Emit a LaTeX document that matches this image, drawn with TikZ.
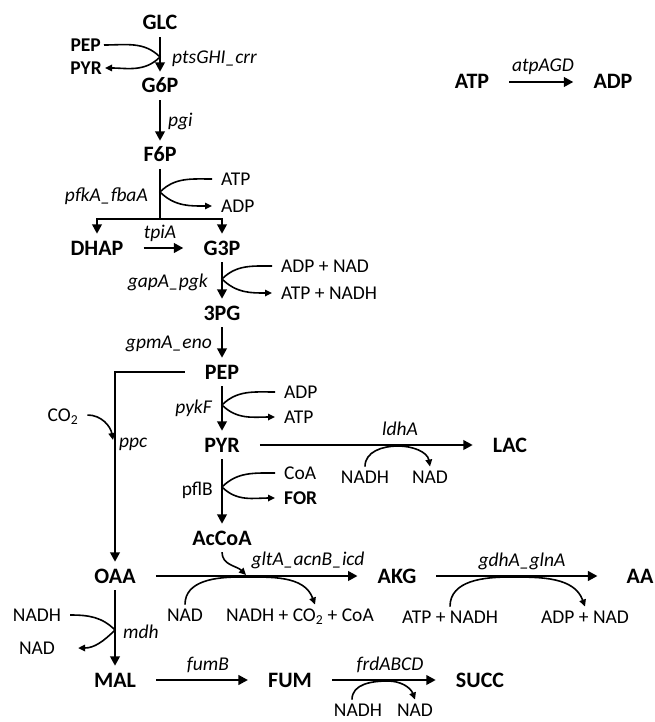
\documentclass[tikz,border=0pt]{standalone}
\usepackage{fontspec}
\setmainfont{Carlito}
\usetikzlibrary{arrows.meta}

\begin{document}
\begin{tikzpicture}[x=1pt, y=-1pt,
  met/.style={font=\bfseries\fontsize{22}{26}\selectfont, text height=14pt,
    text depth=0pt, inner xsep=20pt, inner ysep=7pt},
  metsm/.style={font=\bfseries\fontsize{19.5}{23}\selectfont,
    text height=12.5pt, text depth=0pt, inner sep=3pt},
  cof/.style={font=\fontsize{19.5}{23}\selectfont, text height=12.5pt,
    text depth=0pt, inner xsep=9pt, inner ysep=4pt},
  gene/.style={font=\itshape\fontsize{19.5}{23}\selectfont, inner sep=0pt},
  rxn/.style={line width=2.7pt, -{Triangle[length=9.5pt,width=9.5pt]}},
  bar/.style={line width=2.7pt},
  side/.style={line width=1.6pt, -{Triangle[length=7pt,width=6.5pt]}}
]
\useasboundingbox (0,0) rectangle (654,722);

% Glycolysis
\node[met] (glc) at (160,23) {GLC};
\node[met] (g6p) at (160,86) {G6P};
\node[met] (f6p) at (160,155) {F6P};
\node[met] (dhap) at (97,248) {DHAP};
\node[met] (g3p) at (222,248) {G3P};
\node[met] (pg3) at (222,313) {3PG};
\node[met] (pep) at (222,372) {PEP};
\node[met] (pyr) at (222,445) {PYR};
\node[met] (lac) at (510,445) {LAC};
\node[met] (accoa) at (222,538) {AcCoA};

% TCA branch
\node[met] (oaa) at (115,576) {OAA};
\node[met] (akg) at (397,576) {AKG};
\node[met] (aa) at (640,576) {AA};
\node[met] (mal) at (115,680) {MAL};
\node[met] (fum) at (290,680) {FUM};
\node[met] (succ) at (480,680) {SUCC};

% ATP maintenance
\node[met] (atpm) at (472,82) {ATP};
\node[met] (adpm) at (613,82) {ADP};

% Cofactors
\node[metsm, anchor=east] (pts_pep) at (104,45) {PEP};
\node[metsm, anchor=east] (pts_pyr) at (105,68) {PYR};
\node[cof, anchor=west] (pfk_atp) at (212,179) {ATP};
\node[cof, anchor=west] (pfk_adp) at (212,206) {ADP};
\node[cof, anchor=west] (gap_in) at (272,266) {ADP + NAD};
\node[cof, anchor=west] (gap_out) at (272,293) {ATP + NADH};
\node[cof, anchor=west] (pyk_adp) at (275,392) {ADP};
\node[cof, anchor=west] (pyk_atp) at (275,417) {ATP};
\node[cof, anchor=west] (pfl_coa) at (275,473) {CoA};
\node[cof, anchor=west, font=\bfseries\fontsize{19.5}{23}\selectfont]
  (pfl_for) at (275,498) {FOR};
\node[cof] (ppc_co2) at (63,415) {CO\textsubscript{2}};
\node[cof] (ldh_nadh) at (365,477) {NADH};
\node[cof] (ldh_nad) at (430,477) {NAD};
\node[cof] (tca_nad) at (185,615) {NAD};
\node[cof] (tca_out) at (300,615) {NADH + CO\textsubscript{2} + CoA};
\node[cof] (gdh_in) at (450,617) {ATP + NADH};
\node[cof] (gdh_out) at (585,617) {ADP + NAD};
\node[cof] (mdh_nadh) at (37,615) {NADH};
\node[cof] (mdh_nad) at (37,648) {NAD};
\node[cof] (frd_nadh) at (358,710) {NADH};
\node[cof] (frd_nad) at (415,710) {NAD};

% Genes
\node[gene, anchor=base west] (pts) at (172,64) {ptsGHI\_crr};
\node[gene, anchor=base west] (pgi) at (168,127) {pgi};
\node[gene, anchor=base east] (pfk) at (148,201) {pfkA\_fbaA};
\node[gene, anchor=base] (tpi) at (160,238) {tpiA};
\node[gene, anchor=base east] (gap) at (208,287) {gapA\_pgk};
\node[gene, anchor=base east] (gpm) at (212,348) {gpmA\_eno};
\node[gene, anchor=base east] (pyk) at (212,413) {pykF};
\node[gene, anchor=base west] (ppc) at (119,447) {ppc};
\node[gene, anchor=base] (ldh) at (400,435) {ldhA};
\node[gene, anchor=base east] (pfl) at (213,495) {\upshape pflB};
\node[gene, anchor=base] (glt) at (308,565) {gltA\_acnB\_icd};
\node[gene, anchor=base] (gdh) at (522,566) {gdhA\_glnA};
\node[gene, anchor=base west] (mdh) at (123,638) {mdh};
\node[gene, anchor=base] (fumb) at (208,670) {fumB};
\node[gene, anchor=base] (frd) at (390,670) {frdABCD};
\node[gene, anchor=base] (atp) at (543,72) {atpAGD};

% Main reactions
\draw[rxn] (glc) -- (g6p);
\draw[rxn] (g6p) -- (f6p);
\coordinate (fork) at (160,219);
\draw[bar] (f6p) -- (fork);
\draw[rxn] (fork) -| (dhap);
\draw[rxn] (fork) -| (g3p);
\draw[rxn] (dhap) -- (g3p);
\draw[rxn] (g3p) -- (pg3);
\draw[rxn] (pg3) -- (pep);
\draw[rxn] (pep) -- (pyr);
\draw[rxn] (pyr) -- (lac);
\draw[rxn] (pyr) -- (accoa);
\draw[rxn] (pep) -| (oaa);
\draw[rxn] (oaa) -- (akg);
\draw[rxn, shorten >=9pt] (akg) -- (aa);
\draw[rxn] (oaa) -- (mal);
\draw[rxn] (mal) -- (fum);
\draw[rxn] (fum) -- (succ);
\draw[rxn] (atpm) -- (adpm);

% Cofactor arcs
\draw[side] (pts_pep.east) to[out=0,in=135] (160,57)
  to[out=-135,in=0] (pts_pyr.east);
\draw[side] (pfk_atp.west) to[out=180,in=45] (160,192)
  to[out=-45,in=180] (pfk_adp.west);
\draw[side] (gap_in.west) to[out=180,in=45] (222,279)
  to[out=-45,in=180] (gap_out.west);
\draw[side] (pyk_adp.west) to[out=180,in=45] (222,405)
  to[out=-45,in=180] (pyk_atp.west);
\draw[side] (pfl_coa.west) to[out=180,in=45] (222,487)
  to[out=-45,in=180] (pfl_for.west);
\draw[side] (ppc_co2.east) to[out=0,in=100] (113,440);
\draw[side] (ldh_nadh.north) to[out=90,in=180] (398,446)
  to[out=0,in=100] (ldh_nad.north);
\draw[side] (accoa.south) to[out=-90,in=135] (246,575);
\draw[side] (tca_nad.north) to[out=90,in=180] (240,577)
  to[out=0,in=110] ([xshift=15pt]tca_out.north);
\draw[side] (gdh_in.north) to[out=90,in=180] (510,577)
  to[out=0,in=110] (gdh_out.north);
\draw[side] (mdh_nadh.east) to[out=0,in=135] (115,630)
  to[out=-135,in=0] ([xshift=14pt]mdh_nad.east);
\draw[side] ([xshift=-6pt]frd_nadh.north) to[out=90,in=180] (388,681)
  to[out=0,in=110] (frd_nad.north);

\end{tikzpicture}
\end{document}
